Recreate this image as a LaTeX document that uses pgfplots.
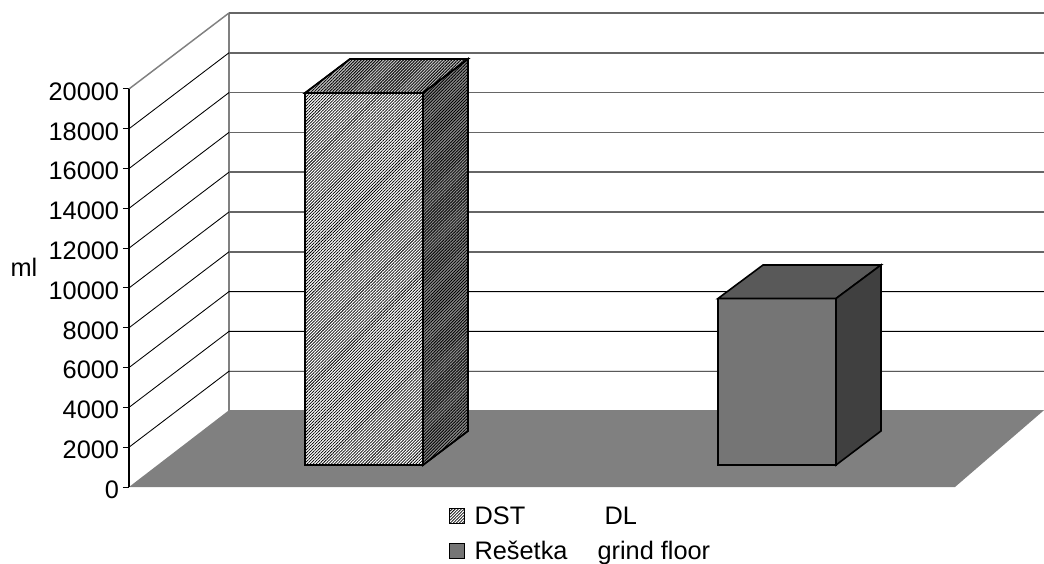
\documentclass[border=0pt]{standalone}
\usepackage{fontspec}
\setmainfont{Liberation Sans}
\usepackage{pgfplots}
\pgfplotsset{compat=1.18}
\usetikzlibrary{patterns.meta}

% x runs in reference pixels, y in ml (1 px = 0.75 pt, 398 px = 20000 ml)
\tikzset{
  barline/.style={draw=black, line width=1.2pt, line join=miter},
  wall/.style={draw=black, line width=0.65pt},
  wallgray/.style={draw=black!60, line width=1.1pt},
}
\begin{document}
\begin{tikzpicture}
\path[use as bounding box] (-96.75pt,-57pt) rectangle (686.25pt,365.25pt);
\begin{axis}[
    scale only axis,
    width=686.25pt,
    height=355.5pt,
    xmin=129, xmax=1044,
    ymin=0, ymax=23818,
    clip=false,
    axis line style={draw=none},
    xtick=\empty,
    ytick={0,2000,4000,6000,8000,10000,12000,14000,16000,18000,20000},
    ytick pos=left,
    tick align=outside,
    major tick length=4.5pt,
    tick style={black, line width=0.75pt},
    scaled y ticks=false,
    yticklabel style={/pgf/number format/1000 sep={}, /pgf/number format/assume math mode=true, font=\fontsize{19}{20}\selectfont, xshift=0.6pt, yshift=-2pt},
    ylabel={ml},
    ylabel style={rotate=-90, font=\fontsize{19}{20}\selectfont, anchor=center, at={(axis description cs:-0.1148,0.464)}},
    legend style={at={(axis description cs:0.3497,-0.035)}, anchor=north west, draw=none, fill=none, inner sep=0pt,
        row sep=7.2pt, font=\fontsize{19}{20}\selectfont, cells={anchor=west}},
    legend cell align=left,
    legend image code/.code={\draw[#1, line width=0.75pt] (0pt,-5.6pt) rectangle (11.25pt,5.6pt);},
]

% floor
\addplot[forget plot, fill=black!50, draw=none] coordinates {(129,0) (229,3860) (1044,3860) (955,0)} -- cycle;

% walls
\addplot[forget plot, draw=black!50, line width=1.5pt] coordinates {(229,3819) (229,23818)};
\addplot[forget plot, draw=black!50, line width=1.1pt] coordinates {(129,20000) (229,23818)};
\addplot[forget plot, wallgray] coordinates {(229,23818) (1044,23818)};

% gridlines: front edge and depth step
\addplot[forget plot, wall] coordinates {(129,2000) (229,5819) (1044,5819)};
\addplot[forget plot, wall] coordinates {(129,4000) (229,7819) (1044,7819)};
\addplot[forget plot, wall] coordinates {(129,6000) (229,9819) (1044,9819)};
\addplot[forget plot, wall] coordinates {(129,8000) (229,11819)};
\addplot[forget plot, wall] coordinates {(129,10000) (229,13819)};
\addplot[forget plot, wall] coordinates {(129,12000) (229,15819)};
\addplot[forget plot, wall] coordinates {(129,14000) (229,17819)};
\addplot[forget plot, wall] coordinates {(129,16000) (229,19819)};
\addplot[forget plot, wall] coordinates {(129,18000) (229,21819)};

% back wall, upper lines come out greyer
\addplot[forget plot, wallgray] coordinates {(229,11819) (1044,11819)};
\addplot[forget plot, wallgray] coordinates {(229,13819) (1044,13819)};
\addplot[forget plot, wallgray] coordinates {(229,15819) (1044,15819)};
\addplot[forget plot, wallgray] coordinates {(229,17819) (1044,17819)};
\addplot[forget plot, wallgray] coordinates {(229,19819) (1044,19819)};
\addplot[forget plot, wallgray] coordinates {(229,21819) (1044,21819)};

% value axis
\addplot[forget plot, draw=black, line width=0.9pt] coordinates {(129,0) (129,20000)};

% DST bar
\addplot[barline, fill=white, postaction={pattern={Lines[angle=45,distance=1.6pt,line width=0.55pt]}, pattern color=black}]
    coordinates {(305,1105) (423,1105) (423,19798) (305,19798)} -- cycle;
\addlegendentry{\hspace*{5pt}\makebox[97.5pt][l]{DST}DL}
\addplot[forget plot, barline, fill=black!25, postaction={pattern={Lines[angle=45,distance=1.6pt,line width=0.62pt]}, pattern color=black}]
    coordinates {(305,19798) (423,19798) (468,21507) (350,21507)} -- cycle;
\addplot[forget plot, barline, fill=black!45, postaction={pattern={Lines[angle=45,distance=1.6pt,line width=0.62pt]}, pattern color=black}]
    coordinates {(423,1105) (468,2815) (468,21507) (423,19798)} -- cycle;

% Resetka bar
\addplot[barline, fill=black!54]
    coordinates {(718,1105) (836,1105) (836,9472) (718,9472)} -- cycle;
\addlegendentry{\hspace*{5pt}\makebox[92.25pt][l]{Rešetka}grind floor}
\addplot[forget plot, barline, fill=black!65]
    coordinates {(718,9472) (836,9472) (881,11155) (763,11155)} -- cycle;
\addplot[forget plot, barline, fill=black!75]
    coordinates {(836,1105) (881,2815) (881,11155) (836,9472)} -- cycle;

\end{axis}
\end{tikzpicture}
\end{document}
